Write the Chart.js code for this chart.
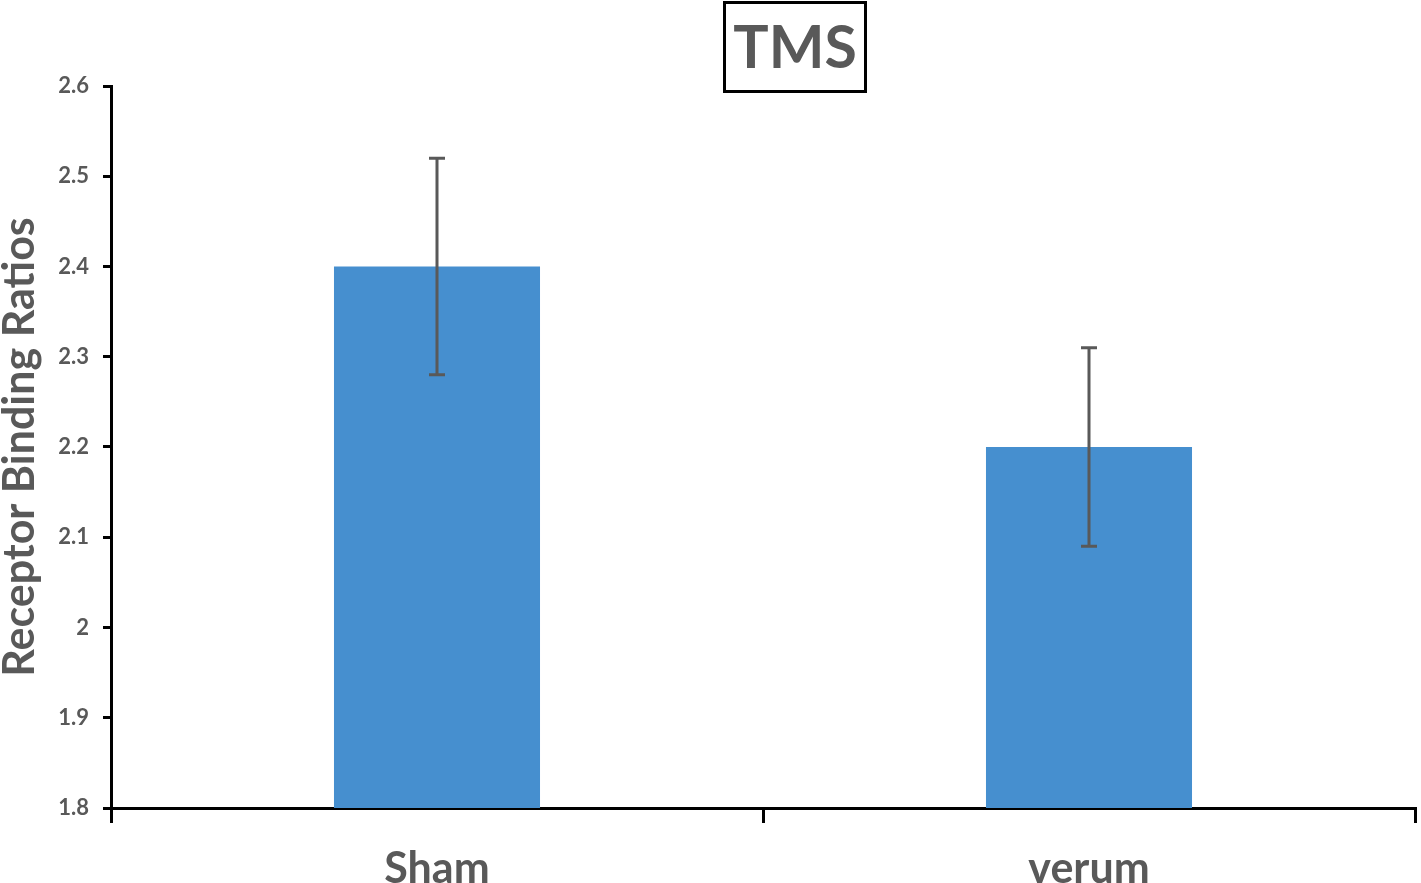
<!DOCTYPE html>
<html>
<head>
<meta charset="utf-8">
<script src="https://cdn.jsdelivr.net/npm/chart.js@4/dist/chart.umd.min.js"></script>
<style>
  html, body { margin: 0; padding: 0; background: #fff; }
  #wrap { width: 1421px; height: 883px; }
</style>
</head>
<body>
<div id="wrap"><canvas id="chart"></canvas></div>
<script>
// data
const categories = ['Sham', 'verum'];
const means = [2.4, 2.2];
const errLow = [2.28, 2.09];
const errHigh = [2.52, 2.31];
const yTicks = [1.8, 1.9, 2.0, 2.1, 2.2, 2.3, 2.4, 2.5, 2.6];

const FONT = 'Lato, "Open Sans", sans-serif';
const GREY = '#595959';

// error bars from the arrays above, through the chart's own scales
const errorBars = {
    id: 'errorBars',
    afterDatasetsDraw(chart) {
        const ctx = chart.ctx;
        const x = chart.scales.x, y = chart.scales.y;
        ctx.save();
        ctx.strokeStyle = GREY;
        ctx.lineWidth = 3;
        categories.forEach((c, i) => {
            const px = x.getPixelForValue(i);
            const top = y.getPixelForValue(errHigh[i]);
            const bot = y.getPixelForValue(errLow[i]);
            ctx.beginPath();
            ctx.moveTo(px, top); ctx.lineTo(px, bot);
            ctx.moveTo(px - 8, top); ctx.lineTo(px + 8, top);
            ctx.moveTo(px - 8, bot); ctx.lineTo(px + 8, bot);
            ctx.stroke();
        });
        ctx.restore();
    }
};

// boxed title "TMS"
const boxTitle = {
    id: 'boxTitle',
    afterDraw(chart) {
        const ctx = chart.ctx;
        ctx.save();
        ctx.font = 'bold 59px ' + FONT;
        ctx.fillStyle = GREY;
        ctx.textAlign = 'center';
        ctx.textBaseline = 'middle';
        ctx.fillText('TMS', 795, 49);
        ctx.strokeStyle = '#000';
        ctx.lineWidth = 3;
        ctx.strokeRect(724.5, 2.5, 141, 89);
        ctx.restore();
    }
};

new Chart(document.getElementById('chart'), {
    type: 'bar',
    data: {
        labels: categories,
        datasets: [{
            data: means,
            backgroundColor: '#468fcf',
            barPercentage: 0.316,
            categoryPercentage: 1.0
        }]
    },
    options: {
        responsive: true,
        maintainAspectRatio: false,
        animation: false,
        layout: { padding: { top: 86, right: 6, left: 0, bottom: 0 } },
        plugins: { legend: { display: false }, tooltip: { enabled: false } },
        scales: {
            x: {
                afterFit: s => { s.height = 75; },
                grid: { offset: true, drawOnChartArea: false, drawTicks: true, tickLength: 15, color: '#000', lineWidth: 3 },
                border: { color: '#000', width: 3 },
                ticks: { color: GREY, font: { family: FONT, size: 43, weight: 'bold' }, padding: 20 }
            },
            y: {
                min: 1.8,
                max: 2.6,
                afterFit: s => { s.width = 111; },
                afterBuildTicks: s => { s.ticks = yTicks.map(v => ({ value: v })); },
                grid: { drawOnChartArea: false, drawTicks: true, tickLength: 8, color: '#000', lineWidth: 3 },
                border: { color: '#000', width: 3 },
                ticks: {
                    color: GREY,
                    font: { family: FONT, size: 22, weight: 'bold' },
                    padding: 14,
                    callback: v => String(Math.round(v * 10) / 10)
                },
                title: {
                    display: true,
                    text: 'Receptor Binding Ratios',
                    color: GREY,
                    font: { family: FONT, size: 43, weight: 'bold' },
                    padding: { top: -6, bottom: 0 }
                }
            }
        }
    },
    plugins: [errorBars, boxTitle]
});
</script>
</body>
</html>
